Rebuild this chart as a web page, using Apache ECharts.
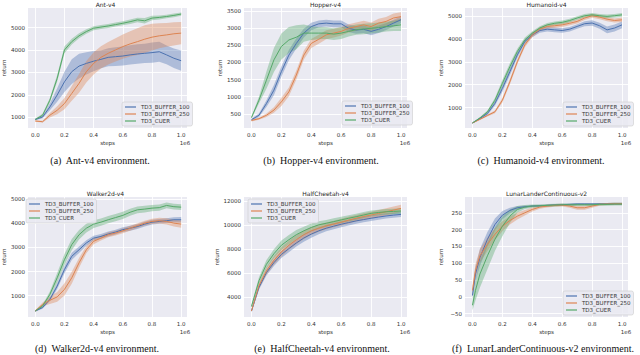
<!DOCTYPE html>
<html><head><meta charset="utf-8">
<script src="https://cdn.jsdelivr.net/npm/echarts@6/dist/echarts.min.js"></script>
<style>html,body{margin:0;padding:0;background:#fff}#c{width:640px;height:355px}</style>
</head><body><div id="c"></div>
<script>
// ---------------- DATA ----------------
const seriesNames = ['TD3_BUFFER_100', 'TD3_BUFFER_250', 'TD3_CUER'];
const envTitles = ['Ant-v4', 'Hopper-v4', 'Humanoid-v4', 'Walker2d-v4', 'HalfCheetah-v4', 'LunarLanderContinuous-v2'];
const captions = ['(a)  Ant-v4 environment.', '(b)  Hopper-v4 environment.', '(c)  Humanoid-v4 environment.',
                  '(d)  Walker2d-v4 environment.', '(e)  HalfCheetah-v4 environment.', '(f)  LunarLanderContinuous-v2 environment.'];
const xTicks = [0, 0.2, 0.4, 0.6, 0.8, 1.0];
const steps = [0, 0.05, 0.1, 0.15, 0.2, 0.25, 0.3, 0.35, 0.4, 0.45, 0.5, 0.55, 0.6, 0.65, 0.7, 0.75, 0.8, 0.85, 0.9, 0.95, 1.0];
const lunarSteps = [0, 0.02, 0.05, 0.1, 0.15, 0.2, 0.25, 0.3, 0.35, 0.4, 0.45, 0.5, 0.55, 0.6, 0.65, 0.7, 0.75, 0.8, 0.85, 0.9, 0.95, 1.0];

// Ant-v4
const antTicks = [1000, 2000, 3000, 4000, 5000];
const ant_b100 = [900, 1010, 1460, 1990, 2580, 3030, 3280, 3400, 3500, 3580, 3670, 3700, 3730, 3780, 3820, 3850, 3880, 3920, 3780, 3630, 3520];
const ant_b100_sd = [40, 60, 150, 300, 450, 550, 550, 500, 450, 400, 400, 420, 420, 430, 430, 430, 450, 450, 420, 430, 450];
const ant_b250 = [830, 800, 1090, 1310, 1610, 2060, 2510, 3030, 3400, 3670, 3850, 4000, 4150, 4270, 4370, 4480, 4570, 4630, 4670, 4720, 4750];
const ant_b250_sd = [30, 40, 100, 180, 250, 330, 420, 480, 500, 500, 500, 520, 540, 560, 600, 620, 600, 560, 530, 520, 500];
const ant_cuer = [900, 1090, 1760, 2730, 4000, 4370, 4630, 4820, 4970, 5020, 5070, 5130, 5190, 5260, 5340, 5300, 5420, 5450, 5490, 5540, 5600];
const ant_cuer_sd = [40, 60, 100, 150, 150, 130, 110, 100, 90, 90, 90, 90, 90, 100, 100, 120, 100, 90, 80, 80, 70];

// Hopper-v4
const hopTicks = [500, 1000, 1500, 2000, 2500, 3000, 3500];
const hop_b100 = [330, 460, 800, 1190, 1730, 2210, 2550, 2850, 3040, 3120, 3140, 3120, 3120, 2990, 2940, 2960, 2900, 2960, 3040, 3140, 3240];
const hop_b100_sd = [30, 50, 100, 150, 150, 150, 150, 130, 110, 100, 100, 100, 100, 110, 110, 110, 110, 110, 100, 100, 100];
const hop_b250 = [310, 360, 460, 610, 850, 1140, 1630, 2210, 2550, 2670, 2800, 2850, 2900, 2990, 3040, 3090, 3040, 3140, 3190, 3290, 3330];
const hop_b250_sd = [30, 30, 50, 80, 120, 130, 130, 130, 130, 130, 130, 130, 120, 120, 120, 120, 120, 130, 130, 130, 130];
const hop_cuer = [393, 900, 1480, 2070, 2460, 2650, 2730, 2850, 2850, 2850, 2850, 2820, 2850, 2900, 2950, 2970, 2990, 3010, 3040, 3060, 3090];
const hop_cuer_sd = [30, 100, 250, 350, 380, 380, 350, 250, 200, 180, 170, 170, 170, 150, 150, 150, 150, 150, 140, 150, 180];

// Humanoid-v4
const humTicks = [1000, 2000, 3000, 4000, 5000];
const hum_b100 = [320, 520, 735, 1180, 1840, 2570, 3310, 3900, 4190, 4380, 4440, 4410, 4380, 4440, 4560, 4680, 4710, 4590, 4410, 4490, 4630];
const hum_b100_sd = [20, 40, 60, 100, 150, 150, 120, 100, 100, 100, 100, 100, 100, 100, 100, 110, 120, 130, 150, 150, 150];
const hum_b250 = [320, 480, 650, 810, 1320, 2130, 3010, 3750, 4190, 4440, 4560, 4590, 4630, 4700, 4780, 4930, 5030, 4970, 4880, 4820, 4850];
const hum_b250_sd = [20, 30, 40, 60, 100, 120, 110, 100, 100, 90, 90, 90, 90, 90, 90, 90, 90, 90, 90, 90, 100];
const hum_cuer = [320, 540, 810, 1320, 2060, 2790, 3460, 3970, 4260, 4490, 4630, 4700, 4740, 4820, 4930, 5030, 5070, 5030, 5000, 5030, 5070];
const hum_cuer_sd = [20, 40, 60, 100, 150, 150, 120, 100, 90, 80, 80, 80, 80, 80, 80, 80, 80, 80, 80, 80, 80];

// Walker2d-v4
const walTicks = [1000, 2000, 3000, 4000, 5000];
const wal_b100 = [370, 510, 850, 1400, 2080, 2630, 2900, 3180, 3380, 3450, 3550, 3630, 3730, 3790, 3860, 3960, 4040, 4070, 4100, 4140, 4140];
const wal_b100_sd = [30, 50, 80, 120, 150, 150, 130, 110, 100, 100, 100, 100, 100, 100, 100, 100, 100, 100, 100, 100, 110];
const wal_b250 = [370, 640, 810, 950, 1260, 1740, 2360, 2900, 3250, 3380, 3520, 3590, 3680, 3790, 3900, 4000, 4070, 4100, 4070, 4000, 3960];
const wal_b250_sd = [30, 80, 150, 200, 250, 250, 200, 150, 120, 100, 100, 100, 100, 100, 100, 100, 110, 120, 130, 140, 150];
const wal_cuer = [370, 575, 1055, 1740, 2490, 3110, 3520, 3790, 3960, 4040, 4140, 4230, 4320, 4450, 4550, 4580, 4620, 4640, 4730, 4680, 4660];
const wal_cuer_sd = [30, 60, 120, 200, 230, 230, 200, 180, 160, 150, 150, 150, 150, 140, 140, 140, 130, 130, 120, 120, 120];

// HalfCheetah-v4
const hcTicks = [4000, 6000, 8000, 10000, 12000];
const hc_b100 = [2850, 4820, 6050, 6880, 7560, 8050, 8520, 8930, 9260, 9530, 9750, 9920, 10080, 10220, 10360, 10470, 10580, 10680, 10770, 10840, 10900];
const hc_b100_sd = [100, 200, 250, 280, 300, 300, 300, 300, 300, 280, 260, 250, 250, 240, 240, 230, 230, 230, 220, 220, 220];
const hc_b250 = [2850, 4960, 6190, 7070, 7780, 8330, 8790, 9210, 9530, 9750, 9950, 10100, 10250, 10420, 10580, 10720, 10850, 10980, 11120, 11260, 11400];
const hc_b250_sd = [100, 250, 300, 350, 380, 380, 380, 350, 330, 300, 280, 280, 280, 280, 280, 280, 280, 290, 300, 300, 300];
const hc_cuer = [3230, 5370, 6740, 7620, 8330, 8790, 9210, 9530, 9810, 10030, 10160, 10300, 10440, 10580, 10710, 10850, 10990, 11060, 11120, 11150, 11180];
const hc_cuer_sd = [150, 300, 350, 380, 400, 400, 380, 350, 330, 300, 280, 270, 260, 250, 250, 240, 240, 230, 230, 230, 230];

// LunarLanderContinuous-v2
const lunTicks = [-50, 0, 50, 100, 150, 200, 250];
const lun_b100 = [4, 68, 117, 171, 215, 243, 257, 265, 268, 270, 271, 272, 273, 274, 275, 276, 276, 276, 276, 276, 277, 277];
const lun_b100_sd = [10, 20, 25, 22, 18, 12, 8, 5, 4, 3, 3, 3, 3, 3, 3, 3, 3, 3, 3, 3, 3, 3];
const lun_b250 = [19, 78, 122, 156, 186, 210, 227, 240, 250, 260, 267, 270, 272, 273, 270, 265, 265, 270, 275, 276, 277, 277];
const lun_b250_sd = [15, 20, 20, 20, 18, 15, 12, 10, 8, 6, 5, 4, 4, 4, 5, 6, 6, 5, 4, 3, 3, 3];
const lun_cuer = [-25, 19, 68, 122, 171, 210, 240, 260, 267, 270, 271, 272, 273, 274, 274, 274, 274, 274, 275, 275, 276, 276];
const lun_cuer_sd = [15, 30, 40, 40, 35, 30, 20, 10, 6, 5, 4, 4, 4, 4, 4, 4, 4, 4, 4, 4, 4, 4];

// ---------------- LAYOUT / STYLE ----------------
const panels = [
  { xs: steps, ticks: antTicks, yr: [520, 5870], s: [[ant_b100, ant_b100_sd], [ant_b250, ant_b250_sd], [ant_cuer, ant_cuer_sd]] },
  { xs: steps, ticks: hopTicks, yr: [90, 3580], s: [[hop_b100, hop_b100_sd], [hop_b250, hop_b250_sd], [hop_cuer, hop_cuer_sd]] },
  { xs: steps, ticks: humTicks, yr: [100, 5370], s: [[hum_b100, hum_b100_sd], [hum_b250, hum_b250_sd], [hum_cuer, hum_cuer_sd]] },
  { xs: steps, ticks: walTicks, yr: [120, 5080], s: [[wal_b100, wal_b100_sd], [wal_b250, wal_b250_sd], [wal_cuer, wal_cuer_sd]] },
  { xs: steps, ticks: hcTicks, yr: [2350, 12350], s: [[hc_b100, hc_b100_sd], [hc_b250, hc_b250_sd], [hc_cuer, hc_cuer_sd]] },
  { xs: lunarSteps, ticks: lunTicks, yr: [-60, 297], s: [[lun_b100, lun_b100_sd], [lun_b250, lun_b250_sd], [lun_cuer, lun_cuer_sd]] }
];
const colLeft = [24, 244, 465];
const rowTop = [8, 197];
const gridW = 163, gridH = 120;
const legendPos = [[122, 102], [342, 101], [563, 102], [26, 199], [248, 199], [563, 291]];
const captionPos = [[100, 160], [321, 160], [541, 160], [97, 348], [322, 348], [543, 348]];
const colors = ['#4C72B0', '#DD8452', '#55A868'];
const FONT = 'DejaVu Sans';
const TXT = '#333333';

const grids = [], xAxes = [], yAxes = [], series = [], legends = [], graphics = [];

function bandSeries(gi, xs, mean, sd, color) {
  return {
    type: 'custom', name: 'band' + gi, xAxisIndex: gi, yAxisIndex: gi, z: 1, silent: true,
    data: [[xs[0], mean[0]]],
    renderItem: function (params, api) {
      const up = [], lo = [];
      for (let i = 0; i < xs.length; i++) {
        up.push(api.coord([xs[i], mean[i] + sd[i]]));
        lo.push(api.coord([xs[i], mean[i] - sd[i]]));
      }
      return { type: 'polygon', shape: { points: up.concat(lo.reverse()) }, style: { fill: color, opacity: 0.38 } };
    }
  };
}

panels.forEach(function (p, i) {
  const col = i % 3, row = Math.floor(i / 3);
  const left = colLeft[col], top = rowTop[row];
  grids.push({ left: left, top: top, width: gridW, height: gridH, show: true, backgroundColor: '#EAEAF2', borderWidth: 0 });
  xAxes.push({
    type: 'value', gridIndex: i, min: -0.05, max: 1.04,
    axisLine: { show: false },
    axisTick: { show: false, customValues: xTicks },
    axisLabel: { customValues: xTicks, formatter: v => v.toFixed(1), fontSize: 5.5, color: TXT, fontFamily: FONT, margin: 4 },
    splitLine: { show: true, lineStyle: { color: '#ffffff', width: 0.9 } },
    name: 'steps', nameLocation: 'middle', nameGap: 12,
    nameTextStyle: { fontSize: 5.5, color: TXT, fontFamily: FONT }
  });
  yAxes.push({
    type: 'value', gridIndex: i, min: p.yr[0], max: p.yr[1],
    axisLine: { show: false },
    axisTick: { show: false, customValues: p.ticks },
    axisLabel: { customValues: p.ticks, formatter: v => String(Math.round(v)).replace('-', '\u2212'), fontSize: 5.5, color: TXT, fontFamily: FONT, margin: 3 },
    splitLine: { show: true, lineStyle: { color: '#ffffff', width: 0.9 } },
    name: 'return', nameLocation: 'middle', nameGap: 21, nameRotate: 90,
    nameTextStyle: { fontSize: 5.5, color: TXT, fontFamily: FONT }
  });
  p.s.forEach(function (pair, k) {
    series.push(bandSeries(i, p.xs, pair[0], pair[1], colors[k]));
  });
  p.s.forEach(function (pair, k) {
    series.push({
      type: 'line', name: seriesNames[k], xAxisIndex: i, yAxisIndex: i, z: 3,
      symbol: 'none', showSymbol: false, silent: true, animation: false,
      lineStyle: { color: colors[k], width: 1 }, itemStyle: { color: colors[k] },
      data: p.xs.map((x, j) => [x, pair[0][j]])
    });
  });
  legends.push({
    data: seriesNames.map((n, k) => ({ name: n, icon: 'rect', itemStyle: { color: colors[k] } })),
    left: legendPos[i][0], top: legendPos[i][1], orient: 'vertical',
    itemWidth: 11, itemHeight: 1.2, itemGap: 1, padding: [2, 3, 2, 3],
    backgroundColor: 'rgba(234,234,242,0.85)', borderColor: '#cccccc', borderWidth: 0.6, borderRadius: 2,
    selectedMode: false,
    textStyle: { fontSize: 5.5, color: TXT, fontFamily: FONT }
  });
  graphics.push({ type: 'text', x: left + gridW / 2, y: top - 4, silent: true,
    style: { text: envTitles[i], font: '6px "' + FONT + '"', fill: '#262626', align: 'center', verticalAlign: 'middle' } });
  graphics.push({ type: 'text', x: left + gridW - 2, y: top + gridH + 15, silent: true,
    style: { text: '1e6', font: '5.5px "' + FONT + '"', fill: TXT, align: 'center', verticalAlign: 'middle' } });
  graphics.push({ type: 'text', x: captionPos[i][0], y: captionPos[i][1], silent: true,
    style: { text: captions[i], font: '10px "Liberation Serif"', fill: '#111111', align: 'center', verticalAlign: 'middle' } });
});

const chart = echarts.init(document.getElementById('c'), null, { renderer: 'svg', width: 640, height: 355 });
chart.setOption({
  backgroundColor: '#ffffff',
  animation: false,
  grid: grids, xAxis: xAxes, yAxis: yAxes, series: series, legend: legends, graphic: graphics
});
</script></body></html>
